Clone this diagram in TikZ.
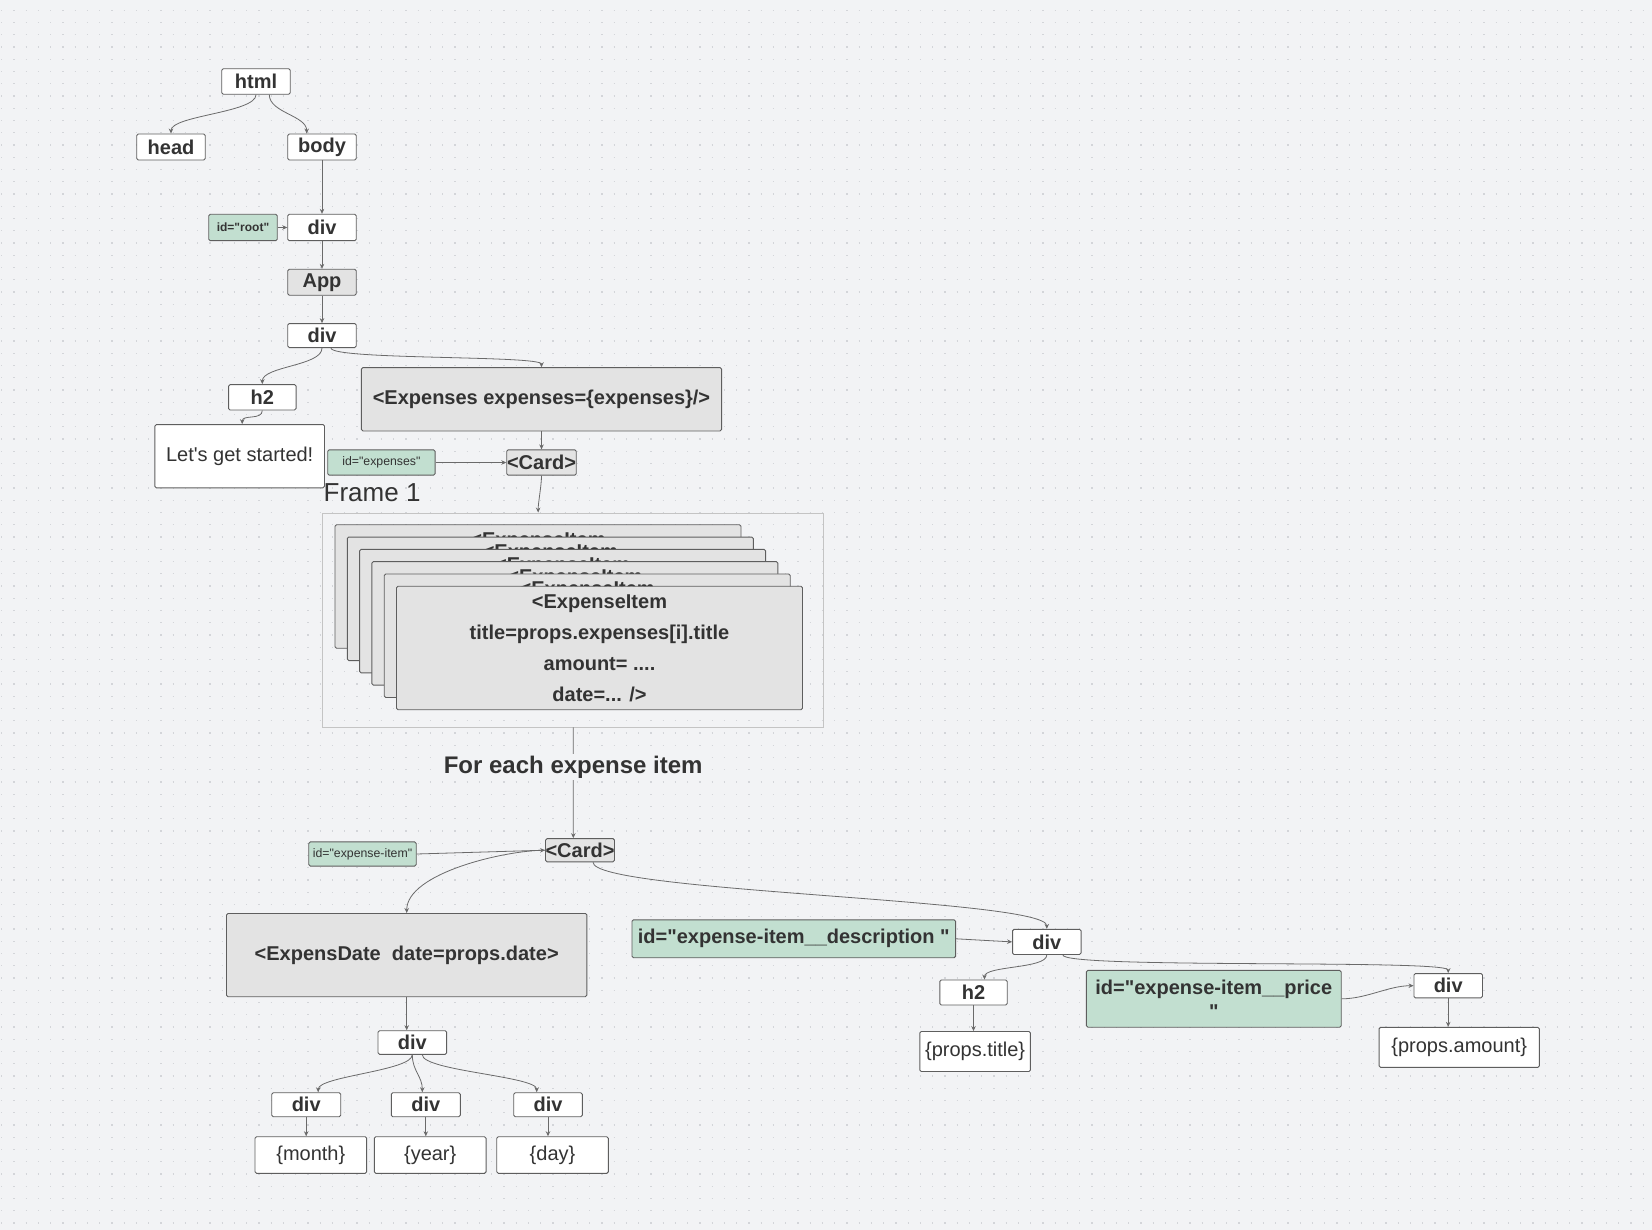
\documentclass[tikz,border=0pt]{standalone}
\usepackage{fontspec}
\setmainfont{Liberation Sans}[Ligatures=TeXOff]
\usepackage{xcolor}
\usetikzlibrary{arrows.meta,positioning,calc}

\definecolor{bgcol}{HTML}{F2F3F5}
\definecolor{dotcol}{HTML}{D3D5D9}
\definecolor{txtcol}{HTML}{333333}
\definecolor{edgecol}{HTML}{5E5E5E}
\definecolor{linkcol}{HTML}{6A6A6A}
\definecolor{grayfill}{HTML}{E3E3E3}
\definecolor{greenfill}{HTML}{C2DFD0}
\definecolor{framecol}{HTML}{C4C4C4}

\tikzset{
    box/.style={draw=edgecol, line width=0.9pt, rounded corners=1.5pt, inner sep=0pt,
        text=txtcol, font=\fontsize{20}{24}\selectfont\bfseries},
    tagbox/.style={box, fill=white},
    compbox/.style={box, fill=grayfill},
    idbox/.style={box, fill=greenfill},
    valbox/.style={box, fill=white, font=\fontsize{20}{24}\selectfont},
    smallid/.style={font=\fontsize{12.3}{14}\selectfont},
    sz/.style 2 args={minimum width=#1pt, minimum height=#2pt},
    link/.style={draw=linkcol, line width=0.8pt, ->},
}

\begin{document}
\begin{tikzpicture}[x=1pt, y=-1pt, >={Stealth[length=5pt,width=4.5pt]}]
    % Background
    \fill[bgcol] (0,0) rectangle (1652,1230);
    \useasboundingbox (0,0) rectangle (1652,1230);
    \foreach \r in {0,...,99} {
        \draw[dotcol, line width=1.2pt, dash pattern=on 1.2pt off 11.05pt]
            (1.2,10.3+12.25*\r) -- (1652,10.3+12.25*\r);
    }

    % Document tree
    \node[tagbox, sz={68.5}{25.5}] (html) at (256,81.5) {html};
    \node[tagbox, sz={68.5}{26}] (head) at (171,147) {head};
    \node[tagbox, sz={68.5}{26}] (body) at (322,147) {body};
    \node[idbox, sz={68.5}{26.4}, font={\fontsize{12}{14}\selectfont\bfseries}] (root) at (243,227.5) {id="root"};
    \node[tagbox, sz={68.5}{26.4}] (div1) at (322,227.5) {div};
    \node[compbox, sz={68.5}{26}] (app) at (322,282.3) {App};
    \node[tagbox, sz={68.5}{24}] (div2) at (322,335.6) {div};
    \node[tagbox, sz={67.5}{25.4}] (h2a) at (262.3,397.3) {h2};
    \node[valbox, sz={169.6}{63.2}] (hello) at (239.7,456.2) {Let's get started!};
    \node[compbox, sz={360.3}{63.3}] (expenses) at (541.5,399.3) {<Expenses expenses=\{expenses\}/>};
    \node[idbox, sz={107.4}{25.3}, smallid] (idexp) at (381.4,462.5) {id="expenses"};
    \node[compbox, sz={69.5}{25.3}] (card1) at (541.5,462.5) {<Card>};

    % Frame with the stacked items
    \node[draw=framecol, line width=0.9pt, sz={501.5}{214}, inner sep=0pt] (frame) at (573.15,620) {};
    \node[anchor=base west, inner sep=0pt, text=txtcol, font=\fontsize{26}{30}\selectfont] (framelabel) at (323.5,501.5) {Frame 1};
    \foreach \k in {0,...,5} {
        \node[compbox, sz={406}{123.5}, align=center, font=\fontsize{20}{31}\selectfont\bfseries]
            (item\k) at (538+12.3*\k,586.5+12.3*\k)
            {<ExpenseItem\\title=props.expenses[i].title\\amount= ....\\date=... />};
    }

    % Expense item
    \node[compbox, sz={68.4}{23.2}] (card2) at (580,850.2) {<Card>};
    \node[idbox, sz={107.5}{24.2}, smallid] (iditem) at (362.5,854) {id="expense-item"};
    \node[compbox, sz={360.4}{83.2}] (date) at (406.7,955.1) {<ExpensDate\ \ date=props.date>};
    \node[idbox, sz={323.6}{37.9}] (iddesc) at (793.8,938.8) {id="expense-item\_\_description "};
    \node[tagbox, sz={68.5}{25.2}] (divdesc) at (1046.8,941.9) {div};
    \node[tagbox, sz={67.4}{25}] (h2b) at (973.5,992.5) {h2};
    \node[valbox, sz={110.6}{40}] (title) at (975.1,1051.5) {\{props.title\}};
    \node[idbox, sz={254.9}{56.8}, align=center] (idprice) at (1213.8,998.8) {id="expense-item\_\_price\\"};
    \node[tagbox, sz={68.5}{24.3}] (divprice) at (1448.2,985.7) {div};
    \node[valbox, sz={160.3}{40}] (amount) at (1459.2,1047.3) {\{props.amount\}};

    % Date parts
    \node[tagbox, sz={68.7}{23.6}] (divdate) at (412.3,1042.5) {div};
    \node[tagbox, sz={69}{24}] (divm) at (306.2,1104.7) {div};
    \node[tagbox, sz={69}{24}] (divy) at (425.8,1104.7) {div};
    \node[tagbox, sz={68.6}{24}] (divd) at (548,1104.7) {div};
    \node[valbox, sz={111.7}{36.6}] (month) at (310.8,1155) {\{month\}};
    \node[valbox, sz={111.7}{36.6}] (year) at (430.2,1155) {\{year\}};
    \node[valbox, sz={111.6}{36.6}] (day) at (552.5,1155) {\{day\}};

    % Connectors
    \draw[link] (html.south) to[out=-90, in=90, distance=18pt] (head.north);
    \draw[link] ([xshift=13.3pt]html.south) to[out=-90, in=90, distance=18pt] ([xshift=-15.3pt]body.north);
    \draw[link] (body.south) -- (div1.north);
    \draw[link] (root.east) -- (div1.west);
    \draw[link] (div1.south) -- (app.north);
    \draw[link] (app.south) -- (div2.north);
    \draw[link] (div2.south) to[out=-90, in=90, distance=18pt] (h2a.north);
    \draw[link] ([xshift=9pt]div2.south) to[out=-90, in=90, distance=12pt] (expenses.north);
    \draw[link] (h2a.south) to[out=-90, in=90, distance=10pt] ([xshift=2.5pt]hello.north);
    \draw[link] (expenses.south) -- (card1.north);
    \draw[link] (idexp.east) -- (card1.west);
    \draw[link] (card1.south) to[out=-90, in=90, distance=10pt] ([xshift=-35pt]frame.north);
    \draw[link] (frame.south) -- node[pos=0.36, fill=bgcol, inner sep=2pt, text=txtcol,
        font=\fontsize{24}{28}\selectfont\bfseries] (foreach) {For each expense item} ([xshift=-6.7pt]card2.north);
    \draw[link] (iditem.east) -- (card2.west);
    \draw[link] (card2.west) to[out=180, in=90, distance=40pt] (date.north);
    \draw[link] ([xshift=13pt]card2.south) to[out=-90, in=90, distance=30pt] (divdesc.north);
    \draw[link] (iddesc.east) -- (divdesc.west);
    \draw[link] (divdesc.south) to[out=-90, in=90, distance=14pt] ([xshift=11pt]h2b.north);
    \draw[link] (h2b.south) -- (h2b.south |- title.north);
    \draw[link] ([xshift=16pt]divdesc.south) to[out=-90, in=90, distance=14pt] (divprice.north);
    \draw[link] (idprice.east) to[out=0, in=180, distance=25pt] (divprice.west);
    \draw[link] (divprice.south) -- (divprice.south |- amount.north);
    \draw[link] (date.south) -- (date.south |- divdate.north);
    \draw[link] (divdate.south) to[out=-90, in=90, distance=16pt] ([xshift=12pt]divm.north);
    \draw[link] (divdate.south) to[out=-90, in=90, distance=16pt] ([xshift=-3.5pt]divy.north);
    \draw[link] ([xshift=10pt]divdate.south) to[out=-90, in=90, distance=16pt] ([xshift=-11.3pt]divd.north);
    \draw[link] (divm.south) -- (divm.south |- month.north);
    \draw[link] (divy.south) -- (divy.south |- year.north);
    \draw[link] (divd.south) -- (divd.south |- day.north);
\end{tikzpicture}
\end{document}
